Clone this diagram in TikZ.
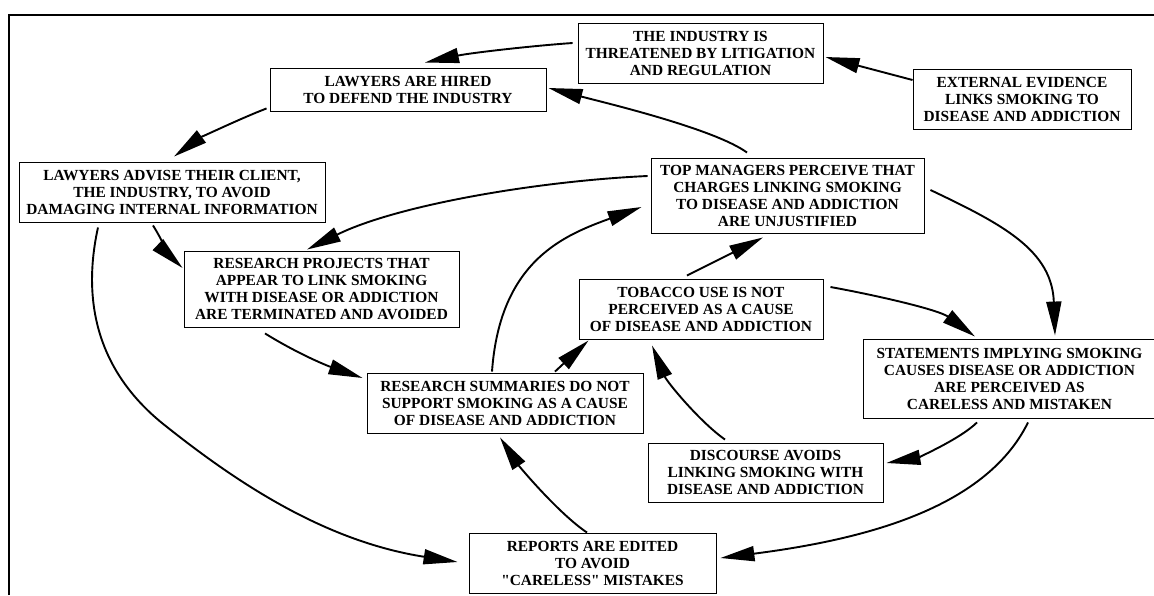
\documentclass[tikz,border=0pt]{standalone}
\usepackage{fontspec}
% plain family: keeps straight double quotes
\newfontfamily\boxserif{Liberation Serif}
\usetikzlibrary{arrows.meta}
\begin{document}
\begin{tikzpicture}[x=1pt,y=-1pt,
  box/.style={draw, line width=0.9pt, inner sep=0pt, align=center,
    font=\boxserif\bfseries\fontsize{15.4}{17}\selectfont},
  link/.style={line width=1.9pt, -{Triangle[length=34pt,width=15pt]}},
  frame/.style={line width=2.4pt}]
\useasboundingbox (0,0) rectangle (1154,595);
% frame edges
\draw[frame] (9,595) -- (9,15) -- (1160,15);

% boxes
\node[box, minimum width=245pt, minimum height=60pt] (ind) at (700.5,53)
  {THE INDUSTRY IS\\THREATENED BY LITIGATION\\AND REGULATION};
\node[box, minimum width=276pt, minimum height=43pt] (hired) at (408,89.5)
  {LAWYERS ARE HIRED\\TO DEFEND THE INDUSTRY};
\node[box, minimum width=218pt, minimum height=60pt] (ext) at (1022,99)
  {EXTERNAL EVIDENCE\\LINKS SMOKING TO\\DISEASE AND ADDICTION};
\node[box, minimum width=306pt, minimum height=60pt] (adv) at (172,192)
  {LAWYERS ADVISE THEIR CLIENT,\\THE INDUSTRY, TO AVOID\\DAMAGING INTERNAL INFORMATION};
\node[box, minimum width=273pt, minimum height=75pt] (top) at (787.5,195.5)
  {TOP MANAGERS PERCEIVE THAT\\CHARGES LINKING SMOKING\\TO DISEASE AND ADDICTION\\ARE UNJUSTIFIED};
\node[box, minimum width=275pt, minimum height=76pt] (proj) at (321.5,289)
  {RESEARCH PROJECTS THAT\\APPEAR TO LINK SMOKING\\WITH DISEASE OR ADDICTION\\ARE TERMINATED AND AVOIDED};
\node[box, minimum width=244pt, minimum height=60pt] (tob) at (701,309)
  {TOBACCO USE IS NOT\\PERCEIVED AS A CAUSE\\OF DISEASE AND ADDICTION};
\node[box, minimum width=293pt, minimum height=79pt] (stat) at (1009.5,378.5)
  {STATEMENTS IMPLYING SMOKING\\CAUSES DISEASE OR ADDICTION\\ARE PERCEIVED AS\\CARELESS AND MISTAKEN};
\node[box, minimum width=276pt, minimum height=60pt] (summ) at (505,403)
  {RESEARCH SUMMARIES DO NOT\\SUPPORT SMOKING AS A CAUSE\\OF DISEASE AND ADDICTION};
\node[box, minimum width=235pt, minimum height=59pt] (disc) at (765.5,472.5)
  {DISCOURSE AVOIDS\\LINKING SMOKING WITH\\DISEASE AND ADDICTION};
\node[box, minimum width=247pt, minimum height=60pt] (rep) at (592.5,563)
  {REPORTS ARE EDITED\\TO AVOID\\"CARELESS" MISTAKES};

% connectors
\draw[link] ([xshift=-5pt,yshift=10pt]ind.west) .. controls (530,46) and (470,53) .. ([xshift=17pt,yshift=5pt]hired.north);
\draw[link] ([yshift=19pt]ext.west) -- ([xshift=2pt,yshift=-4pt]ind.east);
\draw[link] ([xshift=-40.5pt,yshift=5pt]top.north) .. controls (715,129) and (606,103) .. ([xshift=2pt,yshift=1.5pt]hired.east);
\draw[link] ([xshift=-3pt,yshift=3pt]hired.south west) .. controls (239,119) and (198,139) .. ([xshift=2pt,yshift=5pt]adv.north);
\draw[link] ([xshift=-19pt,yshift=-3pt]adv.south) .. controls (159,235) and (172,258) .. ([xshift=-1pt,yshift=21pt]proj.west);
\draw[link] ([xshift=-3pt,yshift=19.5pt]top.west) .. controls (538,181) and (397,205) .. ([xshift=-14.5pt,yshift=1pt]proj.north);
\draw[link] ([xshift=-56.5pt,yshift=-6pt]proj.south) .. controls (300,355) and (328,366) .. ([xshift=-4pt,yshift=25pt]summ.west);
\draw[link] ([xshift=-74pt,yshift=-5pt]adv.south) .. controls (82,300) and (96,372) .. (167,427)
  .. controls (245,489) and (330,542) .. ([xshift=-11pt,yshift=1pt]rep.west);
\draw[link] ([xshift=-13pt,yshift=1pt]summ.north) .. controls (500,260) and (565,235) .. ([xshift=-9pt,yshift=-11.5pt]top.west);
\draw[link] ([xshift=50pt,yshift=1pt]summ.north) -- ([xshift=10pt,yshift=-1pt]tob.south west);
\draw[link] ([xshift=-14pt,yshift=3pt]tob.north) -- ([xshift=-24.5pt,yshift=-4pt]top.south);
\draw[link] ([xshift=7pt,yshift=22pt]tob.east) .. controls (880,296) and (939,310) .. ([xshift=-34.5pt,yshift=2pt]stat.north);
\draw[link] ([xshift=6pt,yshift=5.5pt]top.east) .. controls (1002,224) and (1052,250) .. ([xshift=45.5pt,yshift=3pt]stat.north);
\draw[link] ([xshift=-32.5pt,yshift=-4pt]stat.south) .. controls (959,440) and (916,458) .. ([xshift=3pt,yshift=9.5pt]disc.east);
\draw[link] ([xshift=18.5pt,yshift=-4pt]stat.south) .. controls (985,510) and (860,540) .. ([xshift=4pt,yshift=5pt]rep.east);
\draw[link] ([xshift=-40.5pt,yshift=3pt]disc.north) .. controls (700,422) and (667,382) .. ([xshift=-49pt,yshift=-6pt]tob.south);
\draw[link] ([xshift=-5.5pt]rep.north) .. controls (558,513) and (519,466) .. ([xshift=-5pt,yshift=-4pt]summ.south);
\end{tikzpicture}
\end{document}
